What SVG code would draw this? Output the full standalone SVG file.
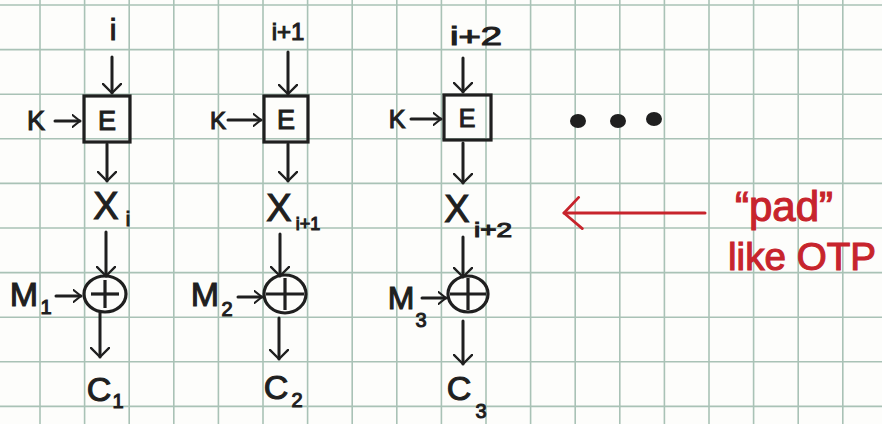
<svg xmlns="http://www.w3.org/2000/svg" width="882" height="424" viewBox="0 0 882 424">
<style>
.grid line{stroke:#a9c2b6;stroke-width:1.6}
.ink{fill:#1f1f1f;stroke:#1f1f1f;stroke-width:1.1;font-family:"Liberation Sans",Arial,sans-serif}
.red{fill:#c7242c;stroke:#c7242c;stroke-width:1.1;font-family:"Liberation Sans",Arial,sans-serif}
.box{fill:none;stroke:#1f1f1f;stroke-width:3.2}
.wire{fill:none;stroke:#1f1f1f;stroke-width:3;stroke-linecap:round}
.rwire{fill:none;stroke:#c7242c;stroke-width:3;stroke-linecap:round}
</style>
<defs>
<marker id="ah" viewBox="0 0 12 22" refX="11" refY="11" markerWidth="11" markerHeight="20" markerUnits="userSpaceOnUse" orient="auto">
<path d="M1,1 L11,11 L1,21" fill="none" stroke="#1f1f1f" stroke-width="2.6" stroke-linecap="round" stroke-linejoin="round"/>
</marker>
<marker id="ahs" viewBox="0 0 12 18" refX="11" refY="9" markerWidth="9" markerHeight="14" markerUnits="userSpaceOnUse" orient="auto">
<path d="M1,1 L11,9 L1,17" fill="none" stroke="#1f1f1f" stroke-width="2.8" stroke-linecap="round" stroke-linejoin="round"/>
</marker>
<marker id="ahr" viewBox="0 0 24 36" refX="22" refY="18" markerWidth="22" markerHeight="34" markerUnits="userSpaceOnUse" orient="auto">
<path d="M2,1 L22,18 L6,35" fill="none" stroke="#c7242c" stroke-width="3" stroke-linecap="round" stroke-linejoin="round"/>
</marker>
</defs>
<rect width="882" height="424" fill="#fdfdfb"/>
<g class="grid">
<line x1="40" y1="0" x2="40" y2="424"/><line x1="84.6" y1="0" x2="84.6" y2="424"/><line x1="129.2" y1="0" x2="129.2" y2="424"/><line x1="173.8" y1="0" x2="173.8" y2="424"/><line x1="218.4" y1="0" x2="218.4" y2="424"/><line x1="263" y1="0" x2="263" y2="424"/><line x1="307.6" y1="0" x2="307.6" y2="424"/><line x1="352.2" y1="0" x2="352.2" y2="424"/><line x1="396.8" y1="0" x2="396.8" y2="424"/><line x1="441.4" y1="0" x2="441.4" y2="424"/><line x1="486" y1="0" x2="486" y2="424"/><line x1="530.6" y1="0" x2="530.6" y2="424"/><line x1="575.2" y1="0" x2="575.2" y2="424"/><line x1="619.8" y1="0" x2="619.8" y2="424"/><line x1="664.4" y1="0" x2="664.4" y2="424"/><line x1="709" y1="0" x2="709" y2="424"/><line x1="753.6" y1="0" x2="753.6" y2="424"/><line x1="798.2" y1="0" x2="798.2" y2="424"/><line x1="842.8" y1="0" x2="842.8" y2="424"/>
<line x1="0" y1="5" x2="882" y2="5"/><line x1="0" y1="49.6" x2="882" y2="49.6"/><line x1="0" y1="94.2" x2="882" y2="94.2"/><line x1="0" y1="138.8" x2="882" y2="138.8"/><line x1="0" y1="183.4" x2="882" y2="183.4"/><line x1="0" y1="228" x2="882" y2="228"/><line x1="0" y1="272.6" x2="882" y2="272.6"/><line x1="0" y1="317.2" x2="882" y2="317.2"/><line x1="0" y1="361.8" x2="882" y2="361.8"/><line x1="0" y1="406.4" x2="882" y2="406.4"/>
</g>

<!-- column 1 -->
<g id="ctr1"><text class="ink" x="113" y="40" font-size="30" text-anchor="middle">i</text></g>
<g id="k1"><text class="ink" x="36" y="130" font-size="27" text-anchor="middle">K</text></g>
<g id="enc1"><rect class="box" x="84" y="96" width="46" height="46"/><text class="ink" x="107" y="130" font-size="27" text-anchor="middle">E</text></g>
<g id="x1"><text class="ink" x="106" y="219" font-size="38" text-anchor="middle">X</text><text class="ink" x="128" y="226" font-size="20" text-anchor="middle">i</text></g>
<g id="m1"><text class="ink" x="24" y="306" font-size="34" text-anchor="middle">M</text><text class="ink" x="46" y="314" font-size="20" text-anchor="middle">1</text></g>
<g id="xor1"><ellipse class="box" cx="105" cy="294" rx="21" ry="18"/><line class="box" x1="105" y1="280" x2="105" y2="308"/><line class="box" x1="91" y1="294" x2="119" y2="294"/></g>
<g id="c1"><text class="ink" x="99" y="401" font-size="34" text-anchor="middle">C</text><text class="ink" x="118" y="408" font-size="20" text-anchor="middle">1</text></g>

<!-- column 2 -->
<g id="ctr2"><text class="ink" x="288" y="40" font-size="24" text-anchor="middle">i+1</text></g>
<g id="k2"><text class="ink" x="218" y="129" font-size="24" text-anchor="middle">K</text></g>
<g id="enc2"><rect class="box" x="264" y="96" width="44" height="46"/><text class="ink" x="286" y="129" font-size="27" text-anchor="middle">E</text></g>
<g id="x2"><text class="ink" x="279" y="221" font-size="38" text-anchor="middle">X</text><text class="ink" x="308" y="230" font-size="18" text-anchor="middle">i+1</text></g>
<g id="m2"><text class="ink" x="205" y="306" font-size="34" text-anchor="middle">M</text><text class="ink" x="227" y="316" font-size="20" text-anchor="middle">2</text></g>
<g id="xor2"><ellipse class="box" cx="285" cy="294" rx="21" ry="19"/><line class="box" x1="285" y1="278" x2="285" y2="310"/><line class="box" x1="266" y1="294" x2="304" y2="294"/></g>
<g id="c2"><text class="ink" x="276" y="399" font-size="34" text-anchor="middle">C</text><text class="ink" x="297" y="407" font-size="20" text-anchor="middle">2</text></g>

<!-- column 3 -->
<g id="ctr3"><text class="ink" x="476" y="45" font-size="26" text-anchor="middle" textLength="52" lengthAdjust="spacingAndGlyphs">i+2</text></g>
<g id="k3"><text class="ink" x="397" y="128" font-size="25" text-anchor="middle">K</text></g>
<g id="enc3"><rect class="box" x="444" y="95" width="47" height="45"/><text class="ink" x="467" y="127" font-size="25" text-anchor="middle">E</text></g>
<g id="x3"><text class="ink" x="457" y="222" font-size="38" text-anchor="middle">X</text><text class="ink" x="493" y="237" font-size="20" text-anchor="middle" textLength="38" lengthAdjust="spacingAndGlyphs">i+2</text></g>
<g id="m3"><text class="ink" x="401" y="309" font-size="32" text-anchor="middle">M</text><text class="ink" x="421" y="327" font-size="20" text-anchor="middle">3</text></g>
<g id="xor3"><ellipse class="box" cx="468" cy="294" rx="20" ry="18"/><line class="box" x1="468" y1="278" x2="468" y2="310"/><line class="box" x1="450" y1="294" x2="486" y2="294"/></g>
<g id="c3"><text class="ink" x="459" y="400" font-size="34" text-anchor="middle">C</text><text class="ink" x="481" y="418" font-size="20" text-anchor="middle">3</text></g>

<!-- ellipsis -->
<g id="more"><ellipse cx="578" cy="121" rx="8" ry="7" fill="#1f1f1f"/><ellipse cx="618" cy="121" rx="8" ry="7" fill="#1f1f1f"/><ellipse cx="654" cy="119" rx="8" ry="7" fill="#1f1f1f"/></g>

<!-- annotation -->
<g id="note"><text class="red" x="784" y="221" font-size="42" text-anchor="middle">“pad”</text><text class="red" x="802" y="270" font-size="38" text-anchor="middle" textLength="148" lengthAdjust="spacingAndGlyphs">like OTP</text></g>

<g id="connectors">
<line class="wire" x1="112" y1="57" x2="112" y2="93" marker-end="url(#ah)"/>
<line class="wire" x1="55" y1="121" x2="80" y2="121" marker-end="url(#ahs)"/>
<line class="wire" x1="107" y1="144" x2="107" y2="181" marker-end="url(#ah)"/>
<line class="wire" x1="106" y1="232" x2="106" y2="276" marker-end="url(#ah)"/>
<line class="wire" x1="56" y1="296" x2="81" y2="296" marker-end="url(#ahs)"/>
<line class="wire" x1="100" y1="313" x2="100" y2="357" marker-end="url(#ah)"/>

<line class="wire" x1="288" y1="52" x2="288" y2="94" marker-end="url(#ah)"/>
<line class="wire" x1="228" y1="120" x2="261" y2="120" marker-end="url(#ahs)"/>
<line class="wire" x1="288" y1="144" x2="288" y2="181" marker-end="url(#ah)"/>
<line class="wire" x1="280" y1="234" x2="280" y2="276" marker-end="url(#ah)"/>
<line class="wire" x1="238" y1="297" x2="262" y2="297" marker-end="url(#ahs)"/>
<line class="wire" x1="279" y1="318" x2="279" y2="359" marker-end="url(#ah)"/>

<line class="wire" x1="463" y1="58" x2="463" y2="92" marker-end="url(#ah)"/>
<line class="wire" x1="411" y1="119" x2="441" y2="119" marker-end="url(#ahs)"/>
<line class="wire" x1="463" y1="143" x2="463" y2="183" marker-end="url(#ah)"/>
<line class="wire" x1="463" y1="237" x2="463" y2="277" marker-end="url(#ah)"/>
<line class="wire" x1="422" y1="298" x2="446" y2="298" marker-end="url(#ahs)"/>
<line class="wire" x1="463" y1="321" x2="463" y2="364" marker-end="url(#ah)"/>

<line class="rwire" x1="705" y1="213" x2="564" y2="213" marker-end="url(#ahr)"/>
</g>
</svg>
